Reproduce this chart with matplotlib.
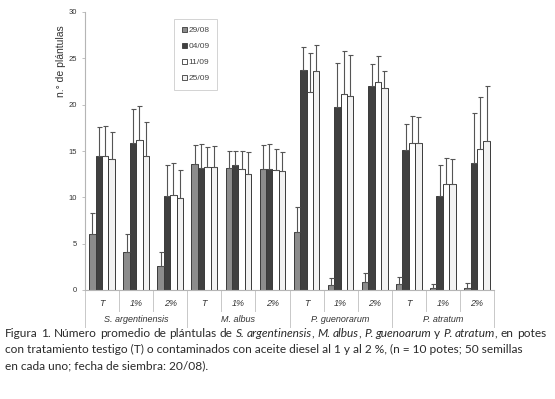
import matplotlib
matplotlib.use("Agg")
import matplotlib.pyplot as plt
import numpy as np
from matplotlib.patches import Patch

categories = ["T", "1%", "2%", "T", "1%", "2%", "T", "1%", "2%", "T", "1%", "2%"]
species = ["S. argentinensis", "M. albus", "P. guenorarum", "P. atratum"]
series = ["29/08", "04/09", "11/09", "25/09"]

v_2908 = [6.0, 4.1, 2.6, 13.6, 13.2, 13.1, 6.3, 0.5, 0.9, 0.7, 0.2, 0.2]
v_0409 = [14.45, 15.9, 10.15, 13.2, 13.5, 13.1, 23.7, 19.8, 22.0, 15.1, 10.15, 13.7]
v_1109 = [14.45, 16.2, 10.3, 13.25, 13.1, 13.0, 21.35, 21.1, 22.4, 15.85, 11.45, 15.25]
v_2509 = [14.1, 14.45, 9.95, 13.3, 12.5, 12.8, 23.6, 20.9, 21.85, 15.85, 11.4, 16.05]

e_2908 = [2.3, 1.9, 1.5, 2.05, 1.8, 2.6, 2.65, 0.75, 0.9, 0.7, 0.45, 0.6]
e_0409 = [3.1, 3.6, 3.35, 2.55, 1.55, 2.65, 2.5, 4.75, 2.35, 2.8, 3.3, 5.35]
e_1109 = [3.25, 3.7, 3.4, 2.15, 1.95, 2.2, 4.25, 4.65, 2.9, 2.9, 2.75, 5.55]
e_2509 = [3.0, 3.65, 2.95, 2.2, 2.4, 2.1, 2.8, 4.5, 1.8, 2.8, 2.7, 6.0]

caption_line1 = [("Figura 1. Número promedio de plántulas de ", False), ("S. argentinensis", True), (", ", False),
                 ("M. albus", True), (", ", False), ("P. guenoarum", True), (" y ", False), ("P. atratum", True),
                 (", en potes", False)]
caption_line2 = "con tratamiento testigo (T) o contaminados con aceite diesel al 1 y al 2 %, (n = 10 potes; 50 semillas"
caption_line3 = "en cada uno; fecha de siembra: 20/08)."

W, H = 555, 399
fig = plt.figure(figsize=(W / 100, H / 100), dpi=100)
ax_l, ax_r, ax_b, ax_t = 85, 494, 290, 12
ax = fig.add_axes([ax_l / W, 1 - ax_b / H, (ax_r - ax_l) / W, (ax_b - ax_t) / H])

vals = [v_2908, v_0409, v_1109, v_2509]
errs = [e_2908, e_0409, e_1109, e_2509]
colors = ["#8c8c8c", "#404040", "#ffffff", "#f2f2f2"]
x = np.arange(len(categories))
bw = 0.188
for i, (v, e, c) in enumerate(zip(vals, errs, colors)):
    xs = x + (i - 1.5) * bw
    ax.bar(xs, v, width=bw, color=c, edgecolor="#3a3a3a", linewidth=0.7, zorder=2)
    ax.errorbar(xs, v, yerr=[np.zeros(len(v)), e], fmt="none", ecolor="#555555",
                elinewidth=0.8, capsize=1.8, capthick=0.8, zorder=3)

ax.set_xlim(-0.5, len(categories) - 0.5)
ax.set_ylim(0, 30)
ax.set_yticks(np.arange(0, 31, 5))
ax.set_xticks([])
for s in ["top", "right"]:
    ax.spines[s].set_visible(False)
for s in ["left", "bottom"]:
    ax.spines[s].set_color("#b5b5b5")
    ax.spines[s].set_linewidth(0.8)
ax.tick_params(axis="y", length=2, width=0.6, color="#b5b5b5", labelsize=5.5,
               labelcolor="#333333", pad=4)
for lab in ax.get_yticklabels():
    lab.set_family("Liberation Sans")

tr = ax.get_xaxis_transform()
px = 1.0 / (ax_b - ax_t)
for k in range(len(categories) + 1):
    xb = k - 0.5
    low = -37 * px if k % 3 == 0 else -21 * px
    ax.plot([xb, xb], [0, low], transform=tr, color="#c8c8c8", lw=0.7, clip_on=False)
for k, c in enumerate(categories):
    ax.text(k, -13 * px, c, transform=tr, ha="center", va="center", fontsize=6.5,
            style="italic", family="Liberation Sans", color="#333333")
for k, sp in enumerate(species):
    ax.text(3 * k + 1, -30 * px, sp, transform=tr, ha="center", va="center", fontsize=6.5,
            style="italic", family="Liberation Sans", color="#333333")

fig.text(61.5 / W, 1 - 61 / H, "n.° de plántulas", rotation=90, ha="center", va="center",
         fontsize=7.5, family="Liberation Sans", color="#333333")

handles = [Patch(facecolor=c, edgecolor="#3a3a3a", linewidth=0.6) for c in colors]
leg = ax.legend(handles, series, loc="upper left", bbox_to_anchor=((174 - ax_l) / (ax_r - ax_l), 1 - (19 - ax_t) * px),
                prop={"family": "Liberation Sans", "size": 6}, handlelength=0.65, handleheight=0.65,
                handletextpad=0.15, labelspacing=1.0, borderpad=0.9, borderaxespad=0,
                frameon=True, fancybox=False, edgecolor="#c8c8c8", labelcolor="#444444")
leg.get_frame().set_linewidth(0.7)

# caption
renderer = fig.canvas.get_renderer()
cap_font = "Lato"
cap_size = 8.6
cap_color = "#2a2a2a"
x0, x1 = 5, 546
line_y = [337, 353, 369]

def measure(t, it):
    tt = fig.text(0, 0, t, fontsize=cap_size, family=cap_font, style="italic" if it else "normal")
    w = tt.get_window_extent(renderer).width
    tt.remove()
    return w

nat_sp = measure("a a", False) - measure("aa", False)
words = [[]]
for text, it in caption_line1:
    parts = text.split(" ")
    for pi, p in enumerate(parts):
        if pi > 0:
            words.append([])
        if p:
            words[-1].append((p, it))
words = [w for w in words if w]
widths = [[measure(p, it) - (0.8 if it else 0) for p, it in w] for w in words]
total = sum(sum(w) for w in widths)
sp_w = max(0.6 * nat_sp, (x1 - x0 - total) / (len(words) - 1))
cx = x0
for w, ws in zip(words, widths):
    for (p, it), pw in zip(w, ws):
        fig.text(cx / W, 1 - line_y[0] / H, p, fontsize=cap_size, family=cap_font,
                 style="italic" if it else "normal", va="baseline", ha="left", color=cap_color)
        cx += pw
    cx += sp_w

fig.text(x0 / W, 1 - line_y[1] / H, caption_line2, fontsize=cap_size, family=cap_font,
         va="baseline", ha="left", color=cap_color)
fig.text(x0 / W, 1 - line_y[2] / H, caption_line3, fontsize=cap_size, family=cap_font,
         va="baseline", ha="left", color=cap_color)

fig.savefig("out.png", dpi=100)
